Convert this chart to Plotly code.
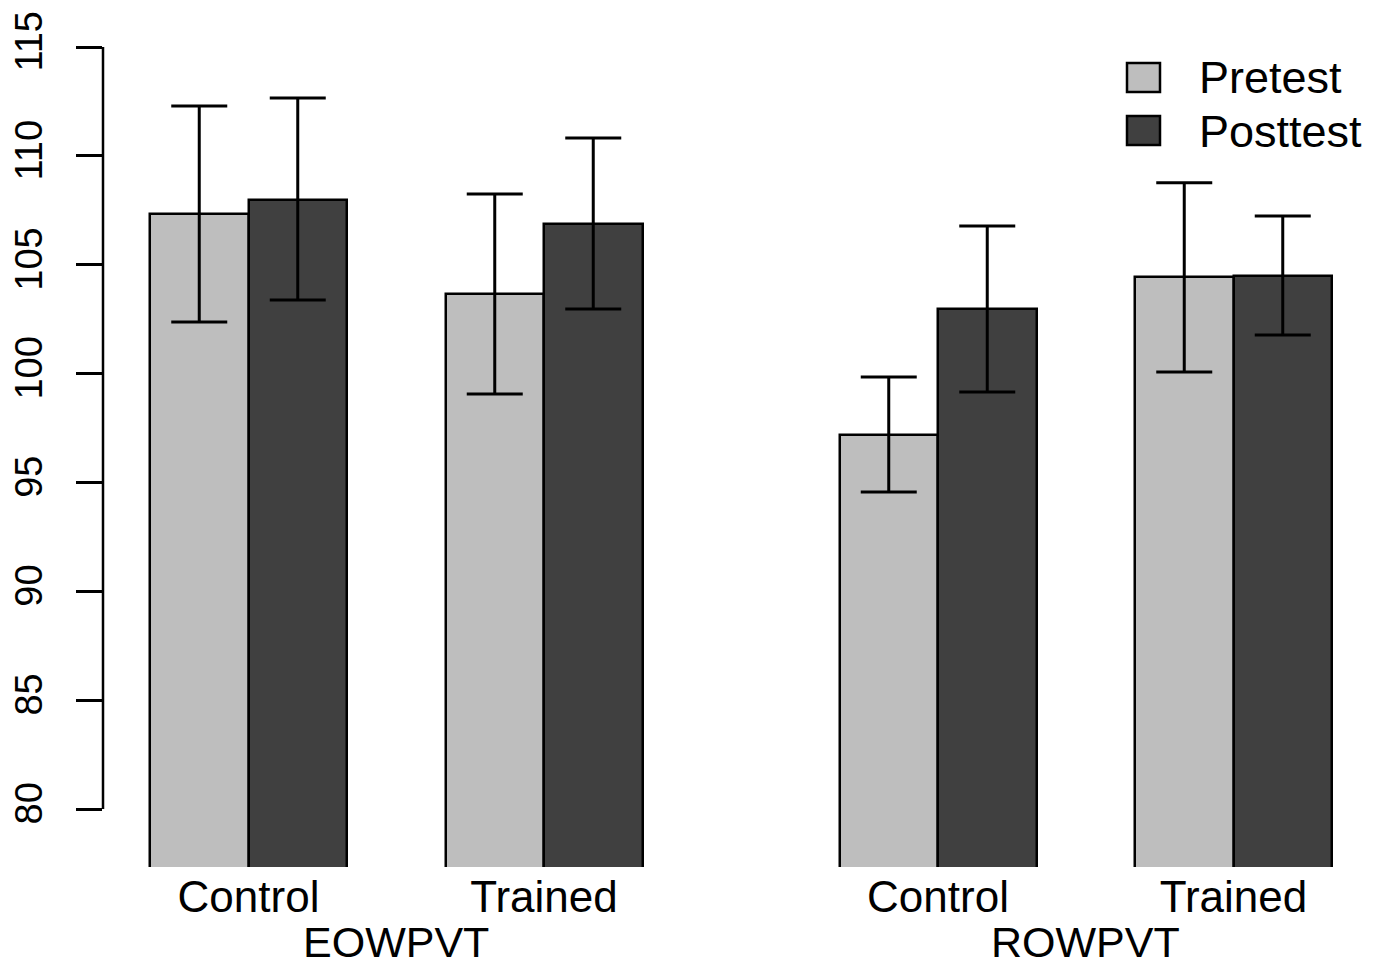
import plotly.graph_objects as go

measures = ["EOWPVT", "ROWPVT"]
groups = ["Control", "Trained"]
series = ["Pretest", "Posttest"]

pretest_mean = [107.33, 103.66, 97.18, 104.44]
pretest_upper = [112.29, 108.25, 99.84, 108.76]
pretest_lower = [102.37, 99.06, 94.56, 100.07]

posttest_mean = [107.97, 106.87, 102.97, 104.48]
posttest_upper = [112.66, 110.82, 106.78, 107.24]
posttest_lower = [103.38, 102.97, 99.15, 101.77]

colors = ["#BEBEBE", "#404040"]

# R barplot-style layout: 2 bars per group, space 1 between groups within a measure, 2 between measures
centers = []
x = 0.0
for mi, m in enumerate(measures):
    if mi > 0:
        x += 2
    for gi, g in enumerate(groups):
        if gi > 0:
            x += 1
        centers.append(x + 1.0)
        x += 2

pre_x = [c - 0.5 for c in centers]
post_x = [c + 0.5 for c in centers]

fig = go.Figure()
for name, xs, mean, up, lo, col in [
    ("Pretest", pre_x, pretest_mean, pretest_upper, pretest_lower, colors[0]),
    ("Posttest", post_x, posttest_mean, posttest_upper, posttest_lower, colors[1]),
]:
    fig.add_trace(go.Bar(
        x=xs, y=mean, name=name, width=1.0,
        marker=dict(color=col, line=dict(color="black", width=2.5)),
        error_y=dict(type="data", symmetric=False,
                     array=[u - m for u, m in zip(up, mean)],
                     arrayminus=[m - l for m, l in zip(mean, lo)],
                     color="black", thickness=3, width=28),
        showlegend=False,
    ))

# page has an 8px body margin -> work in page pixel coords minus OFF
OFF = 8
W, H = 1378 - OFF, 967 - OFF
L = 103 - OFF
T = 20 - OFF
plot_bottom = 867 - OFF
plot_right = 1358 - OFF
R = W - plot_right
B = H - plot_bottom
pw, ph = W - L - R, H - T - B

fig.update_layout(
    width=W, height=H,
    margin=dict(l=L, r=R, t=T, b=B, pad=0, autoexpand=False),
    plot_bgcolor="white", paper_bgcolor="white",
    font=dict(family="Liberation Sans, Arial, Helvetica, sans-serif", color="black"),
    bargap=0,
)

x_left = (103 - 150) / 98.5
x_right = (1358 - 150) / 98.5
fig.update_xaxes(range=[x_left, x_right], tickvals=centers, ticktext=groups * 2,
                 ticks="", showgrid=False, zeroline=False, showline=False,
                 tickfont=dict(size=44), ticklabelstandoff=0, automargin=False)

px_per = (809 - 47) / 35.0
y_bot = 80 - (867 - 809) / px_per
y_top = 115 + (47 - 20) / px_per
fig.update_yaxes(range=[y_bot, y_top], tickvals=[80, 85, 90, 95, 100, 105, 110, 115],
                 ticks="outside", ticklen=26, tickwidth=2.5, tickcolor="black",
                 tickangle=-90, tickfont=dict(size=38), showgrid=False,
                 zeroline=False, showline=False, ticklabelstandoff=19, automargin=False)

# axis line from 80 to 115 (R-style)
fig.add_shape(type="line", xref="paper", yref="y", x0=0, x1=0, y0=80, y1=115,
              line=dict(color="black", width=2.5))

def px2paper(px, py):
    return (px - OFF - L) / pw, (plot_bottom - (py - OFF)) / ph

# group labels
for mi, m in enumerate(measures):
    cx = (centers[2 * mi] + centers[2 * mi + 1]) / 2
    fig.add_annotation(x=cx, xref="x", y=px2paper(0, 942)[1], yref="paper",
                       text=m, showarrow=False, font=dict(size=43),
                       xanchor="center", yanchor="middle", borderpad=0)

# legend
for i, (name, col) in enumerate(zip(series, colors)):
    top = 63 + 53 * i
    x0, y0 = px2paper(1127, top)
    x1, y1 = px2paper(1160, top + 29)
    fig.add_shape(type="rect", xref="paper", yref="paper", x0=x0, x1=x1, y0=y1, y1=y0,
                  fillcolor=col, line=dict(color="black", width=2.5))
    tx, ty = px2paper(1197, top + 15)
    fig.add_annotation(x=tx, y=ty, xref="paper", yref="paper", text=name,
                       showarrow=False, font=dict(size=45), xanchor="left",
                       yanchor="middle")

fig.write_html("out.html")
